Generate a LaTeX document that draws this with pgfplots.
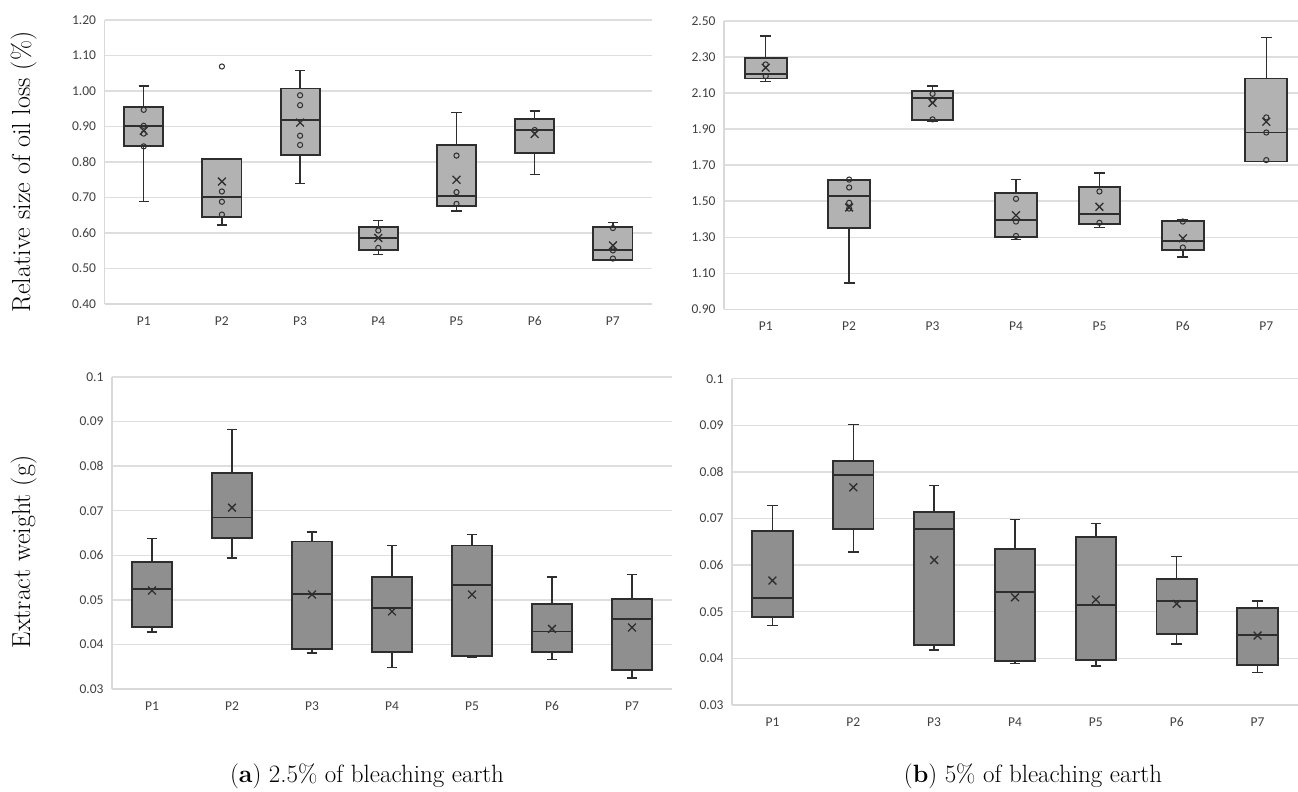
\documentclass[border=0pt]{standalone}
\usepackage{fontspec}
\usepackage{pgfplots}
\pgfplotsset{compat=1.18}
\usepgfplotslibrary{statistics}
\newfontfamily\carlito{Carlito}
\definecolor{topfill}{gray}{0.70}
\definecolor{botfill}{gray}{0.56}
\definecolor{edge}{gray}{0.18}
\newcommand{\bx}[6]{\addplot[draw=edge, line width=1.5pt, mark=none, boxplot/draw direction=y, boxplot prepared={draw position=#1, lower whisker=#2, lower quartile=#3, median=#4, upper quartile=#5, upper whisker=#6}] coordinates {};}
\pgfplotsset{
  base/.style={scale only axis, xmin=0.5, xmax=7.5, xtick={1,2,3,4,5,6,7},
    xticklabels={P1,P2,P3,P4,P5,P6,P7},
    ymajorgrids, major grid style={draw=black!13, line width=1.4pt},
    axis x line*=bottom, axis y line*=left,
    axis line style={draw=black!15, line width=1.4pt},
    major tick length=0pt, tick style={draw=none},
    tick label style={font=\carlito\fontsize{13.5}{15}\selectfont, text=black!75},
    /pgf/number format/assume math mode=true,
    xticklabel style={yshift=-9pt},
    yticklabel style={xshift=-5pt},
    boxplot/draw direction=y,
    boxplot/box extend=0.5, boxplot/whisker extend=0.13,
    boxplot/every whisker/.style={line width=1.4pt},
    boxplot/every median/.style={line width=1.8pt},
  },
  meanx/.style={only marks, mark=x, mark size=5.5pt, draw=edge, line width=1.3pt},
  pts/.style={only marks, mark=o, mark size=2.6pt, draw=edge, line width=1pt},
}
\begin{document}
\begin{tikzpicture}
\path[use as bounding box] (0pt,0pt) rectangle (1298pt,-792pt);

% ---------- top left ----------
\begin{axis}[base, at={(104.6pt,-304pt)}, anchor=south west, width=547.4pt, height=284pt,
  ymin=0.4, ymax=1.2, ytick={0.4,0.5,0.6,0.7,0.8,0.9,1.0,1.1,1.2},
  yticklabel style={/pgf/number format/.cd, fixed, fixed zerofill, precision=2},
  boxplot/every box/.style={fill=topfill, line width=1.9pt}]
\bx{1}{0.688}{0.844}{0.901}{0.955}{1.014}
\bx{2}{0.622}{0.644}{0.702}{0.809}{0.809}
\bx{3}{0.740}{0.819}{0.918}{1.007}{1.058}
\bx{4}{0.539}{0.553}{0.586}{0.616}{0.635}
\bx{5}{0.662}{0.675}{0.704}{0.848}{0.939}
\bx{6}{0.764}{0.825}{0.890}{0.922}{0.944}
\bx{7}{0.523}{0.525}{0.553}{0.618}{0.630}
\addplot[meanx] coordinates {(1,0.888) (2,0.745) (3,0.911) (4,0.586) (5,0.750) (6,0.879) (7,0.565)};
\addplot[pts] coordinates {(1,0.947) (1,0.902) (1,0.880) (1,0.844)
  (2,1.069) (2,0.717) (2,0.688) (2,0.652)
  (3,0.988) (3,0.960) (3,0.874) (3,0.848)
  (4,0.607) (4,0.558)
  (5,0.818) (5,0.715) (5,0.682)
  (6,0.890)
  (7,0.614) (7,0.551) (7,0.528)};
\end{axis}

% ---------- top right ----------
\begin{axis}[base, at={(724pt,-309.3pt)}, anchor=south west, width=584pt, height=288.3pt,
  ymin=0.9, ymax=2.5, ytick={0.9,1.1,1.3,1.5,1.7,1.9,2.1,2.3,2.5},
  yticklabel style={/pgf/number format/.cd, fixed, fixed zerofill, precision=2},
  boxplot/every box/.style={fill=topfill, line width=1.9pt}]
\bx{1}{2.163}{2.181}{2.206}{2.296}{2.417}
\bx{2}{1.046}{1.350}{1.531}{1.620}{1.620}
\bx{3}{1.944}{1.950}{2.074}{2.111}{2.139}
\bx{4}{1.287}{1.302}{1.394}{1.543}{1.622}
\bx{5}{1.354}{1.372}{1.430}{1.578}{1.657}
\bx{6}{1.191}{1.231}{1.280}{1.391}{1.396}
\bx{7}{1.720}{1.720}{1.881}{2.181}{2.407}
\addplot[meanx] coordinates {(1,2.241) (2,1.465) (3,2.046) (4,1.422) (5,1.469) (6,1.294) (7,1.941)};
\addplot[pts] coordinates {(1,2.259) (1,2.194)
  (2,1.620) (2,1.576) (2,1.491) (2,1.459)
  (3,2.096) (3,2.061) (3,1.954)
  (4,1.513) (4,1.387) (4,1.307)
  (5,1.554) (5,1.380)
  (6,1.387) (6,1.243)
  (7,1.965) (7,1.881) (7,1.728)};
\end{axis}

% ---------- bottom left ----------
\begin{axis}[base, at={(112pt,-689pt)}, anchor=south west, width=560pt, height=312pt,
  ymin=0.03, ymax=0.1, ytick={0.03,0.04,0.05,0.06,0.07,0.08,0.09,0.1},
  yticklabel style={/pgf/number format/.cd, fixed, precision=2},
  boxplot/every box/.style={fill=botfill, line width=1.9pt}]
\bx{1}{0.0428}{0.0439}{0.0524}{0.0585}{0.0638}
\bx{2}{0.0594}{0.0638}{0.0685}{0.0785}{0.0882}
\bx{3}{0.0381}{0.0390}{0.0514}{0.0631}{0.0652}
\bx{4}{0.0348}{0.0383}{0.0482}{0.0551}{0.0622}
\bx{5}{0.0372}{0.0375}{0.0533}{0.0622}{0.0646}
\bx{6}{0.0366}{0.0383}{0.0429}{0.0491}{0.0551}
\bx{7}{0.0325}{0.0343}{0.0457}{0.0501}{0.0557}
\addplot[meanx] coordinates {(1,0.0521) (2,0.0707) (3,0.0512) (4,0.0474) (5,0.0512) (6,0.0435) (7,0.0438)};
\end{axis}

% ---------- bottom right ----------
\begin{axis}[base, at={(732pt,-705pt)}, anchor=south west, width=566pt, height=326.3pt,
  ymin=0.03, ymax=0.1, ytick={0.03,0.04,0.05,0.06,0.07,0.08,0.09,0.1},
  yticklabel style={/pgf/number format/.cd, fixed, precision=2},
  boxplot/every box/.style={fill=botfill, line width=1.9pt}]
\bx{1}{0.0470}{0.0488}{0.0530}{0.0674}{0.0728}
\bx{2}{0.0628}{0.0677}{0.0794}{0.0824}{0.0902}
\bx{3}{0.0418}{0.0429}{0.0677}{0.0714}{0.0771}
\bx{4}{0.0389}{0.0394}{0.0543}{0.0635}{0.0698}
\bx{5}{0.0384}{0.0397}{0.0515}{0.0661}{0.0689}
\bx{6}{0.0431}{0.0453}{0.0523}{0.0571}{0.0619}
\bx{7}{0.0370}{0.0385}{0.0451}{0.0508}{0.0523}
\addplot[meanx] coordinates {(1,0.0567) (2,0.0767) (3,0.0611) (4,0.0531) (5,0.0526) (6,0.0517) (7,0.0449)};
\end{axis}

\node[rotate=90, anchor=base, font=\fontsize{26}{30}\selectfont] at (30pt,-172pt) {Relative size of oil loss (\%)};
\node[rotate=90, anchor=base, font=\fontsize{26}{30}\selectfont] at (30pt,-552pt) {Extract weight (g)};
\node[anchor=base, font=\fontsize{25}{30}\selectfont] at (367pt,-782pt) {(\textbf{a}) 2.5\% of bleaching earth};
\node[anchor=base, font=\fontsize{25}{30}\selectfont] at (1033pt,-782pt) {(\textbf{b}) 5\% of bleaching earth};
\end{tikzpicture}
\end{document}
